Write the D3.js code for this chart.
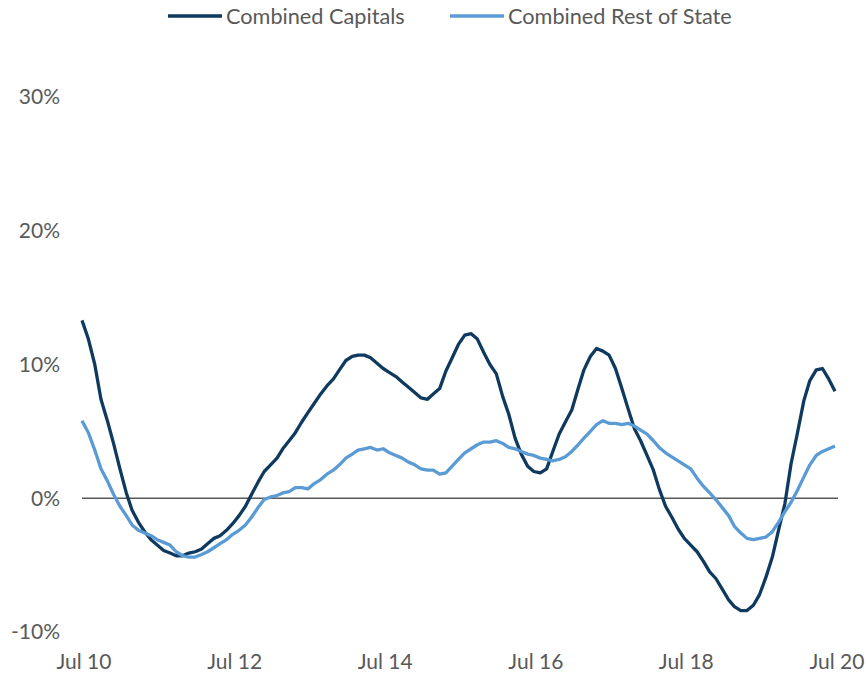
<!DOCTYPE html>
<html>
<head>
<meta charset="utf-8">
<script src="https://cdn.jsdelivr.net/npm/d3@7"></script>
<style>
  body { margin: 0; background: #fff; }
  text { font-family: Lato, "Open Sans", sans-serif; fill: #595959; }
</style>
</head>
<body>
<div id="chart"></div>
<script>
// Annual change, monthly from Jul 2010 to Jul 2020
var startMonth = new Date(2010, 6, 1);
var seriesNames = ["Combined Capitals", "Combined Rest of State"];
var seriesColors = ["#0f3a5f", "#5b9bd5"];

var capitals = [
  13.3, 11.9, 10.0, 7.4, 5.8, 4.1, 2.2, 0.4, -0.9, -1.8, -2.5, -3.1,
  -3.5, -3.9, -4.1, -4.3, -4.3, -4.1, -4.0, -3.8, -3.4, -3.0, -2.8, -2.4,
  -1.9, -1.3, -0.6, 0.3, 1.2, 2.0, 2.5, 3.0, 3.7, 4.3, 4.9, 5.7,
  6.4, 7.1, 7.8, 8.4, 8.9, 9.6, 10.3, 10.6, 10.7, 10.7, 10.5, 10.1,
  9.7, 9.4, 9.1, 8.7, 8.3, 7.9, 7.5, 7.4, 7.8, 8.2, 9.5, 10.5,
  11.5, 12.2, 12.3, 11.9, 10.9, 10.0, 9.3, 7.6, 6.3, 4.5, 3.3, 2.4,
  2.0, 1.9, 2.2, 3.5, 4.8, 5.7, 6.6, 8.2, 9.6, 10.6, 11.2, 11.0,
  10.7, 9.7, 8.2, 6.7, 5.2, 4.3, 3.2, 2.1, 0.7, -0.6, -1.4, -2.3,
  -3.0, -3.5, -4.0, -4.7, -5.5, -6.0, -6.8, -7.6, -8.1, -8.4, -8.4, -8.0,
  -7.2, -5.9, -4.4, -2.4, -0.4, 2.6, 4.9, 7.3, 8.8, 9.6, 9.7, 8.9,
  8.0
];

var restOfState = [
  5.8, 4.9, 3.6, 2.2, 1.3, 0.3, -0.6, -1.3, -2.0, -2.4, -2.6, -2.8,
  -3.1, -3.3, -3.5, -4.0, -4.3, -4.4, -4.4, -4.2, -4.0, -3.7, -3.4, -3.1,
  -2.7, -2.4, -2.0, -1.4, -0.7, -0.1, 0.1, 0.2, 0.4, 0.5, 0.8, 0.8,
  0.7, 1.1, 1.4, 1.8, 2.1, 2.5, 3.0, 3.3, 3.6, 3.7, 3.8, 3.6,
  3.7, 3.4, 3.2, 3.0, 2.7, 2.5, 2.2, 2.1, 2.1, 1.8, 1.9, 2.4,
  2.9, 3.4, 3.7, 4.0, 4.2, 4.2, 4.3, 4.1, 3.8, 3.7, 3.5, 3.3,
  3.2, 3.0, 2.9, 2.8, 2.9, 3.1, 3.5, 4.0, 4.5, 5.0, 5.5, 5.8,
  5.6, 5.6, 5.5, 5.6, 5.4, 5.1, 4.8, 4.3, 3.8, 3.4, 3.1, 2.8,
  2.5, 2.2, 1.5, 0.9, 0.4, -0.1, -0.7, -1.3, -2.1, -2.6, -3.0, -3.1,
  -3.0, -2.9, -2.5, -1.8, -1.0, -0.3, 0.6, 1.6, 2.5, 3.2, 3.5, 3.7,
  3.9
];

var yTicks = [-10, 0, 10, 20, 30];
var xTickYears = [2010, 2012, 2014, 2016, 2018, 2020];

var width = 865;
var height = 674;
var fontSize = "21px";

var svg = d3.select("#chart")
    .append("svg")
    .attr("width", width)
    .attr("height", height);

var x = d3.scaleTime()
    .domain([startMonth, new Date(2020, 6, 1)])
    .range([82, 835]);

var y = d3.scaleLinear()
    .domain([-10, 30])
    .range([632, 97]);

var months = capitals.map(function (d, i) { return d3.timeMonth.offset(startMonth, i); });

// y labels
svg.selectAll("text.ylab")
    .data(yTicks)
    .enter()
    .append("text")
    .attr("class", "ylab")
    .attr("x", 60)
    .attr("y", function (d) { return y(d); })
    .attr("dy", "0.35em")
    .attr("text-anchor", "end")
    .style("font-size", fontSize)
    .text(function (d) { return d + "%"; });

// x labels
svg.selectAll("text.xlab")
    .data(xTickYears)
    .enter()
    .append("text")
    .attr("class", "xlab")
    .attr("x", function (d) { return x(new Date(d, 6, 1)) + 2; })
    .attr("y", 669)
    .attr("text-anchor", "middle")
    .style("font-size", fontSize)
    .text(function (d) { return "Jul " + String(d).slice(2); });

// zero line
svg.append("line")
    .attr("x1", x(startMonth))
    .attr("x2", x(new Date(2020, 6, 1)) + 3)
    .attr("y1", y(0))
    .attr("y2", y(0))
    .attr("stroke", "#595959")
    .attr("stroke-width", 1.3);

var line = d3.line()
    .x(function (d, i) { return x(months[i]); })
    .y(function (d) { return y(d); });

[capitals, restOfState].forEach(function (vals, k) {
    svg.append("path")
        .datum(vals)
        .attr("fill", "none")
        .attr("stroke", seriesColors[k])
        .attr("stroke-width", 3.3)
        .attr("stroke-linejoin", "round")
        .attr("d", line);
});

// legend
var legendX = [168, 450];
seriesNames.forEach(function (name, k) {
    svg.append("line")
        .attr("x1", legendX[k])
        .attr("x2", legendX[k] + 54)
        .attr("y1", 16)
        .attr("y2", 16)
        .attr("stroke", seriesColors[k])
        .attr("stroke-width", 3.5);
    svg.append("text")
        .attr("x", legendX[k] + 58)
        .attr("y", 16)
        .attr("dy", "0.35em")
        .style("font-size", "21.7px")
        .text(name);
});
</script>
</body>
</html>
